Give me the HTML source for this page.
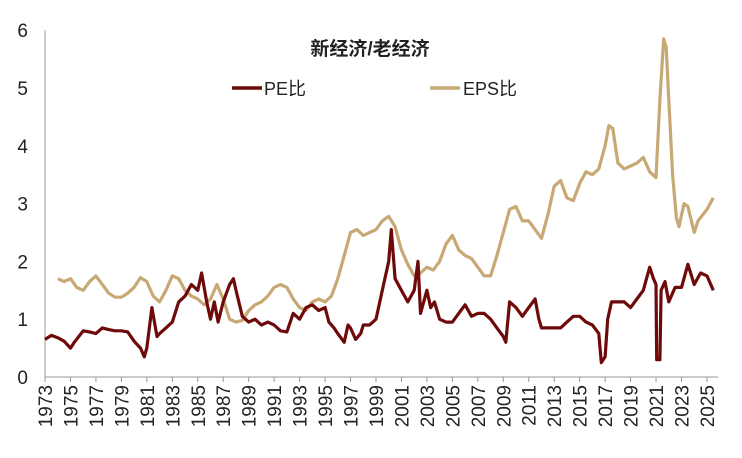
<!DOCTYPE html>
<html><head><meta charset="utf-8"><style>
body{margin:0;background:#fff}
svg text{font-family:"Liberation Sans","Noto Sans CJK SC",sans-serif;fill:#222}
</style></head><body>
<svg id="c" width="742" height="453"></svg>
<script>
const peYears=[1973,1973.5,1974,1974.5,1975,1975.3,1976,1976.5,1977,1977.5,1978,1978.5,1979,1979.5,1980,1980.5,1980.8,1981,1981.4,1981.8,1982,1982.5,1983,1983.5,1984,1984.5,1985,1985.3,1985.7,1986,1986.3,1986.6,1987,1987.5,1987.8,1988,1988.5,1989,1989.5,1990,1990.5,1991,1991.5,1992,1992.5,1993,1993.5,1994,1994.5,1995,1995.3,1995.7,1996,1996.5,1996.8,1997,1997.4,1997.8,1998,1998.5,1999,1999.5,2000,2000.2,2000.5,2001,2001.5,2002,2002.3,2002.5,2003,2003.3,2003.6,2004,2004.5,2005,2005.5,2006,2006.5,2007,2007.5,2008,2008.5,2009,2009.2,2009.5,2010,2010.5,2011,2011.5,2011.8,2012,2012.5,2013,2013.5,2014,2014.5,2015,2015.5,2016,2016.5,2016.7,2017,2017.2,2017.5,2018,2018.5,2019,2019.5,2020,2020.5,2020.8,2021,2021.05,2021.3,2021.4,2021.7,2022,2022.5,2023,2023.5,2024,2024.5,2025,2025.5];
const peValues=[0.65,0.72,0.68,0.62,0.5,0.6,0.8,0.78,0.75,0.85,0.82,0.8,0.8,0.78,0.62,0.5,0.35,0.5,1.2,0.7,0.75,0.85,0.95,1.3,1.4,1.6,1.5,1.8,1.3,1.0,1.3,0.95,1.3,1.6,1.7,1.5,1.05,0.95,1.0,0.9,0.95,0.9,0.8,0.78,1.1,1.0,1.2,1.25,1.15,1.2,0.95,0.85,0.75,0.6,0.9,0.85,0.65,0.75,0.9,0.9,1.0,1.5,2.0,2.55,1.7,1.5,1.3,1.5,2.0,1.1,1.5,1.2,1.3,1.0,0.95,0.95,1.1,1.25,1.05,1.1,1.1,1.0,0.85,0.7,0.6,1.3,1.2,1.05,1.2,1.35,1.0,0.85,0.85,0.85,0.85,0.95,1.05,1.05,0.95,0.9,0.75,0.25,0.35,1.0,1.3,1.3,1.3,1.2,1.35,1.5,1.9,1.7,1.6,0.3,0.3,1.5,1.65,1.3,1.55,1.55,1.95,1.6,1.8,1.75,1.5];
const epsYears=[1974,1974.5,1975,1975.5,1976,1976.5,1977,1977.5,1978,1978.5,1979,1979.5,1980,1980.5,1981,1981.5,1982,1982.5,1983,1983.5,1984,1984.5,1985,1985.5,1986,1986.5,1987,1987.5,1988,1988.5,1989,1989.5,1990,1990.5,1991,1991.5,1992,1992.5,1993,1993.5,1994,1994.5,1995,1995.5,1996,1996.5,1997,1997.5,1998,1998.5,1999,1999.5,2000,2000.5,2001,2001.5,2002,2002.5,2003,2003.5,2004,2004.5,2005,2005.5,2006,2006.5,2007,2007.5,2008,2008.5,2009,2009.5,2010,2010.5,2011,2011.5,2012,2012.5,2013,2013.5,2014,2014.5,2015,2015.5,2016,2016.5,2017,2017.3,2017.6,2018,2018.5,2019,2019.5,2020,2020.5,2021,2021.3,2021.6,2021.8,2022,2022.3,2022.6,2022.8,2023.2,2023.5,2024,2024.3,2025,2025.5];
const epsValues=[1.7,1.65,1.7,1.55,1.5,1.65,1.75,1.6,1.45,1.38,1.38,1.45,1.55,1.72,1.65,1.4,1.3,1.5,1.75,1.7,1.5,1.4,1.35,1.25,1.35,1.6,1.35,1.0,0.95,0.98,1.15,1.25,1.3,1.4,1.55,1.6,1.55,1.35,1.2,1.15,1.3,1.35,1.3,1.4,1.7,2.1,2.5,2.55,2.45,2.5,2.55,2.7,2.78,2.6,2.2,1.95,1.75,1.8,1.9,1.85,2.0,2.3,2.45,2.2,2.1,2.05,1.9,1.75,1.75,2.1,2.5,2.9,2.95,2.7,2.7,2.55,2.4,2.8,3.3,3.4,3.1,3.05,3.35,3.55,3.5,3.6,4.0,4.35,4.3,3.7,3.6,3.65,3.7,3.8,3.55,3.45,4.8,5.85,5.7,4.8,3.5,2.75,2.6,3.0,2.95,2.5,2.7,2.9,3.1];
const yTicks=[0,1,2,3,4,5,6];
const xTicks=[1973,1975,1977,1979,1981,1983,1985,1987,1989,1991,1993,1995,1997,1999,2001,2003,2005,2007,2009,2011,2013,2015,2017,2019,2021,2023,2025];
const NS='http://www.w3.org/2000/svg';
const svg=document.getElementById('c');
const X=v=>45+(v-1973)*12.73;
const Y=v=>377-v*57.8;
function mk(t,a,p){const e=document.createElementNS(NS,t);for(const k in a)e.setAttribute(k,a[k]);(p||svg).appendChild(e);return e;}
let ax=mk('line',{x1:45,y1:Y(0),x2:45,y2:Y(6),stroke:'#999'});


let bx=mk('line',{x1:45,y1:Y(0),x2:718,y2:Y(0),stroke:'#999'});


yTicks.forEach(v=>{const t=mk('text',{x:28,y:Y(v)+7,'text-anchor':'end','font-size':19});t.textContent=v;

});
xTicks.forEach(v=>{mk('line',{x1:X(v),y1:Y(0),x2:X(v),y2:Y(0)+5,stroke:'#999'});
const t=mk('text',{x:0,y:0,'font-size':19,'text-anchor':'end',transform:`translate(${X(v)+7},385) rotate(-90)`});t.textContent=v;

});
function line(xs,ys,col,name){const d=xs.map((x,i)=>(i?'L':'M')+X(x).toFixed(1)+','+Y(ys[i]).toFixed(1)).join('');
const p=mk('path',{d:d,fill:'none',stroke:col,'stroke-width':3.2,'stroke-linejoin':'round'});

}
line(epsYears,epsValues,'#C8A874','eps-ratio-line');
line(peYears,peValues,'#6E0A0A','pe-ratio-line');
const ti=mk('text',{x:370,y:55,'text-anchor':'middle','font-size':19,'font-weight':'bold'});ti.textContent='新经济/老经济';


const g1=mk('g',{});


mk('line',{x1:232,y1:88,x2:262,y2:88,stroke:'#6E0A0A','stroke-width':3.5},g1);
mk('text',{x:264,y:95,'font-size':18},g1).textContent='PE比';
const g2=mk('g',{});


mk('line',{x1:430,y1:88,x2:460,y2:88,stroke:'#C8A874','stroke-width':3.5},g2);
mk('text',{x:463,y:95,'font-size':18},g2).textContent='EPS比';
</script>
</body></html>
